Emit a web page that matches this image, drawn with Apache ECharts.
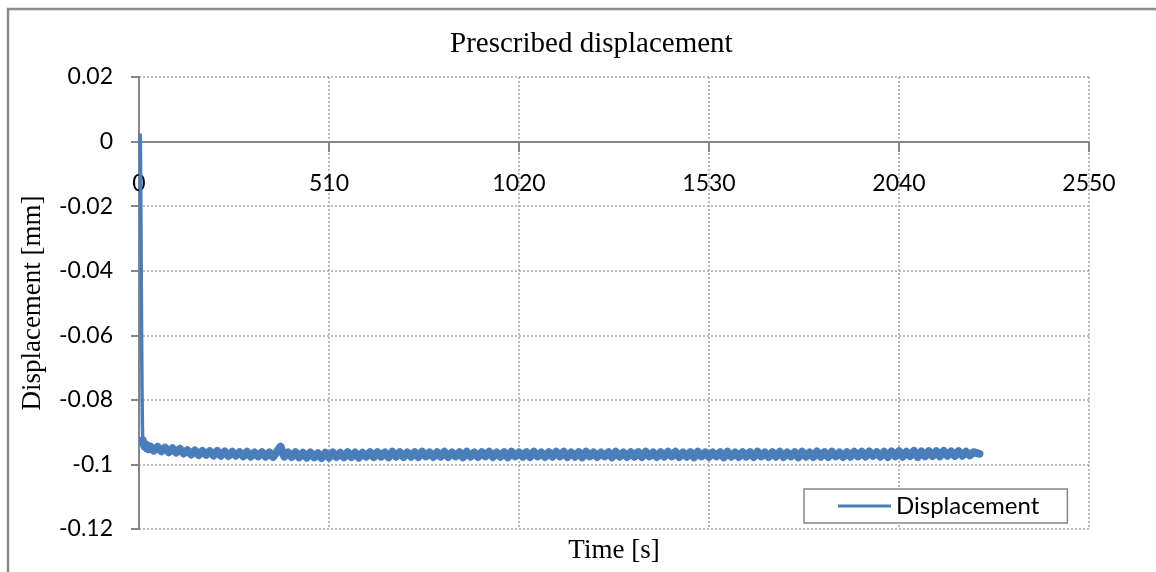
<!DOCTYPE html>
<html>
<head>
<meta charset="utf-8">
<script src="https://cdn.jsdelivr.net/npm/echarts@6/dist/echarts.min.js"></script>
<style>
html,body{margin:0;padding:0;background:#fff;}
#chart{width:1156px;height:572px;}
</style>
</head>
<body>
<div id="chart"></div>
<script>
const titleText = "Prescribed displacement";
const xAxisName = "Time [s]";
const yAxisName = "Displacement [mm]";
const seriesName = "Displacement";

const xTicks = [0, 510, 1020, 1530, 2040, 2550];
const yTicks = [0.02, 0, -0.02, -0.04, -0.06, -0.08, -0.1, -0.12];

const timeS = [
  3, 4, 5, 6, 7, 8, 9, 10, 12, 15, 18, 21, 24, 27,
  30, 40, 50, 60, 70, 80, 90, 100, 110, 120,
  130, 140, 150, 160, 170, 180, 190, 200, 210, 220,
  230, 240, 250, 260, 270, 280, 290, 300, 310, 320,
  330, 340, 350, 360, 370, 380, 390, 400, 410, 420,
  430, 440, 450, 460, 470, 480, 490, 500, 510, 520,
  530, 540, 550, 560, 570, 580, 590, 600, 610, 620,
  630, 640, 650, 660, 670, 680, 690, 700, 710, 720,
  730, 740, 750, 760, 770, 780, 790, 800, 810, 820,
  830, 840, 850, 860, 870, 880, 890, 900, 910, 920,
  930, 940, 950, 960, 970, 980, 990, 1000, 1010, 1020,
  1030, 1040, 1050, 1060, 1070, 1080, 1090, 1100, 1110, 1120,
  1130, 1140, 1150, 1160, 1170, 1180, 1190, 1200, 1210, 1220,
  1230, 1240, 1250, 1260, 1270, 1280, 1290, 1300, 1310, 1320,
  1330, 1340, 1350, 1360, 1370, 1380, 1390, 1400, 1410, 1420,
  1430, 1440, 1450, 1460, 1470, 1480, 1490, 1500, 1510, 1520,
  1530, 1540, 1550, 1560, 1570, 1580, 1590, 1600, 1610, 1620,
  1630, 1640, 1650, 1660, 1670, 1680, 1690, 1700, 1710, 1720,
  1730, 1740, 1750, 1760, 1770, 1780, 1790, 1800, 1810, 1820,
  1830, 1840, 1850, 1860, 1870, 1880, 1890, 1900, 1910, 1920,
  1930, 1940, 1950, 1960, 1970, 1980, 1990, 2000, 2010, 2020,
  2030, 2040, 2050, 2060, 2070, 2080, 2090, 2100, 2110, 2120,
  2130, 2140, 2150, 2160, 2170, 2180, 2190, 2200, 2210, 2220,
  2230, 2240, 2256
];

const displacementMm = [
  0.0025, -0.004, -0.020, -0.040, -0.060, -0.076, -0.087, -0.0925, -0.0935, -0.0945, -0.0938, -0.0950, -0.0942, -0.0953,
  -0.0944, -0.0957, -0.0946, -0.0959, -0.0948, -0.0962, -0.0950, -0.0963, -0.0952, -0.0966,
  -0.0956, -0.0969, -0.0957, -0.0971, -0.0958, -0.0970, -0.0959, -0.0972, -0.0958, -0.0973,
  -0.0960, -0.0974, -0.0961, -0.0973, -0.0962, -0.0975, -0.0961, -0.0976, -0.0963, -0.0975,
  -0.0962, -0.0976, -0.0963, -0.0977, -0.0961, -0.0945, -0.0976, -0.0963, -0.0977, -0.0962,
  -0.0978, -0.0964, -0.0979, -0.0963, -0.0978, -0.0965, -0.0980, -0.0964, -0.0979, -0.0963,
  -0.0977, -0.0964, -0.0978, -0.0962, -0.0977, -0.0963, -0.0979, -0.0964, -0.0976, -0.0962,
  -0.0977, -0.0962, -0.0976, -0.0963, -0.0978, -0.0961, -0.0976, -0.0962, -0.0977, -0.0963,
  -0.0976, -0.0962, -0.0977, -0.0961, -0.0975, -0.0963, -0.0977, -0.0962, -0.0976, -0.0961,
  -0.0977, -0.0963, -0.0975, -0.0962, -0.0978, -0.0961, -0.0976, -0.0963, -0.0977, -0.0962,
  -0.0975, -0.0961, -0.0977, -0.0963, -0.0976, -0.0962, -0.0978, -0.0961, -0.0975, -0.0963,
  -0.0976, -0.0962, -0.0977, -0.0961, -0.0975, -0.0963, -0.0977, -0.0962, -0.0976, -0.0961,
  -0.0975, -0.0961, -0.0977, -0.0963, -0.0976, -0.0962, -0.0978, -0.0961, -0.0975, -0.0963,
  -0.0977, -0.0963, -0.0975, -0.0962, -0.0978, -0.0961, -0.0976, -0.0963, -0.0977, -0.0962,
  -0.0976, -0.0962, -0.0977, -0.0961, -0.0975, -0.0963, -0.0977, -0.0962, -0.0976, -0.0961,
  -0.0975, -0.0961, -0.0977, -0.0963, -0.0976, -0.0962, -0.0978, -0.0961, -0.0975, -0.0963,
  -0.0977, -0.0963, -0.0975, -0.0962, -0.0978, -0.0961, -0.0976, -0.0963, -0.0977, -0.0962,
  -0.0976, -0.0962, -0.0977, -0.0961, -0.0975, -0.0963, -0.0977, -0.0962, -0.0976, -0.0961,
  -0.0977, -0.0963, -0.0975, -0.0962, -0.0978, -0.0961, -0.0976, -0.0963, -0.0977, -0.0960,
  -0.0976, -0.0962, -0.0977, -0.0961, -0.0975, -0.0963, -0.0977, -0.0962, -0.0976, -0.0961,
  -0.0975, -0.0961, -0.0976, -0.0960, -0.0974, -0.0962, -0.0976, -0.0961, -0.0977, -0.0960,
  -0.0975, -0.0959, -0.0976, -0.0961, -0.0974, -0.0958, -0.0977, -0.0960, -0.0975, -0.0959,
  -0.0974, -0.0959, -0.0975, -0.0958, -0.0973, -0.0960, -0.0974, -0.0959, -0.0973, -0.0961,
  -0.0972, -0.0962, -0.0967
];

// the initial ramp (first samples up to the knee) and the noisy plateau
const rampEndIndex = 8;
const rampData = timeS.slice(0, rampEndIndex + 1).map((t, i) => [t, displacementMm[i]]);
const plateauData = timeS.slice(rampEndIndex - 1).map((t, i) => [t, displacementMm[i + rampEndIndex - 1]]);

const chart = echarts.init(document.getElementById('chart'), null, {renderer: 'canvas'});
const axisGray = '#868686';
const lineBlue = '#4a7ebb';
const gridStyle = {color: '#a6a6a6', width: 1.5, type: [2, 2]};
const xAxisLineY = 142, gridBottomY = 529;

chart.setOption({
  animation: false,
  backgroundColor: '#ffffff',
  graphic: [{
    type: 'rect',
    shape: {x: 8, y: 9, width: 1160, height: 580},
    style: {fill: 'none', stroke: '#8a8a8a', lineWidth: 2.5},
    silent: true,
    z: -1
  }],
  title: {
    text: titleText,
    left: 450,
    top: 30,
    padding: 0,
    textStyle: {fontFamily: 'Liberation Serif', fontSize: 29, fontWeight: 'normal', color: '#000'}
  },
  legend: {
    data: [seriesName],
    left: 804,
    top: 489,
    padding: [5, 28, 5, 34],
    borderColor: '#868686',
    borderWidth: 1.5,
    backgroundColor: '#ffffff',
    itemWidth: 53,
    itemHeight: 3,
    icon: 'rect',
    textStyle: {fontFamily: 'Lato', fontSize: 24, color: '#000', lineHeight: 23}
  },
  grid: {left: 139, right: 67, top: 77, bottom: 43, containLabel: false, outerBoundsMode: 'none'},
  xAxis: [{
    type: 'value',
    min: xTicks[0],
    max: xTicks[xTicks.length - 1],
    interval: xTicks[1] - xTicks[0],
    position: 'bottom',
    offset: -(gridBottomY - xAxisLineY),
    axisLine: {show: true, onZero: false, lineStyle: {color: axisGray, width: 2}},
    axisTick: {show: true, length: 10, lineStyle: {color: axisGray, width: 2}},
    axisLabel: {fontFamily: 'Lato', fontSize: 23, color: '#000', margin: 30, showMinLabel: true, showMaxLabel: true,
      formatter: v => String(v)},
    splitLine: {show: true, lineStyle: gridStyle}
  }, {
    type: 'value',
    min: xTicks[0],
    max: xTicks[xTicks.length - 1],
    position: 'bottom',
    name: xAxisName,
    nameLocation: 'middle',
    nameGap: 8,
    nameTextStyle: {fontFamily: 'Liberation Serif', fontSize: 27, color: '#000', verticalAlign: 'top'},
    axisLine: {show: false, onZero: false},
    axisTick: {show: false},
    axisLabel: {show: false},
    splitLine: {show: false}
  }],
  yAxis: {
    type: 'value',
    min: yTicks[yTicks.length - 1],
    max: yTicks[0],
    interval: 0.02,
    name: yAxisName,
    nameLocation: 'middle',
    nameGap: 93,
    nameTextStyle: {fontFamily: 'Liberation Serif', fontSize: 27, color: '#000'},
    axisLine: {show: true, lineStyle: {color: axisGray, width: 2}},
    axisTick: {show: true, length: 8, lineStyle: {color: axisGray, width: 2}},
    axisLabel: {fontFamily: 'Lato', fontSize: 23, color: '#000', margin: 26, showMinLabel: true, showMaxLabel: true,
      formatter: v => String(Math.round(v * 100) / 100)},
    splitLine: {show: true, lineStyle: gridStyle}
  },
  series: [{
    name: seriesName,
    type: 'line',
    data: rampData,
    symbol: 'none',
    color: lineBlue,
    lineStyle: {color: lineBlue, width: 3.5},
    z: 3
  }, {
    name: seriesName,
    type: 'line',
    data: plateauData,
    symbol: 'none',
    color: lineBlue,
    lineStyle: {color: lineBlue, width: 8, cap: 'round', join: 'round'},
    z: 3
  }]
});
</script>
</body>
</html>
